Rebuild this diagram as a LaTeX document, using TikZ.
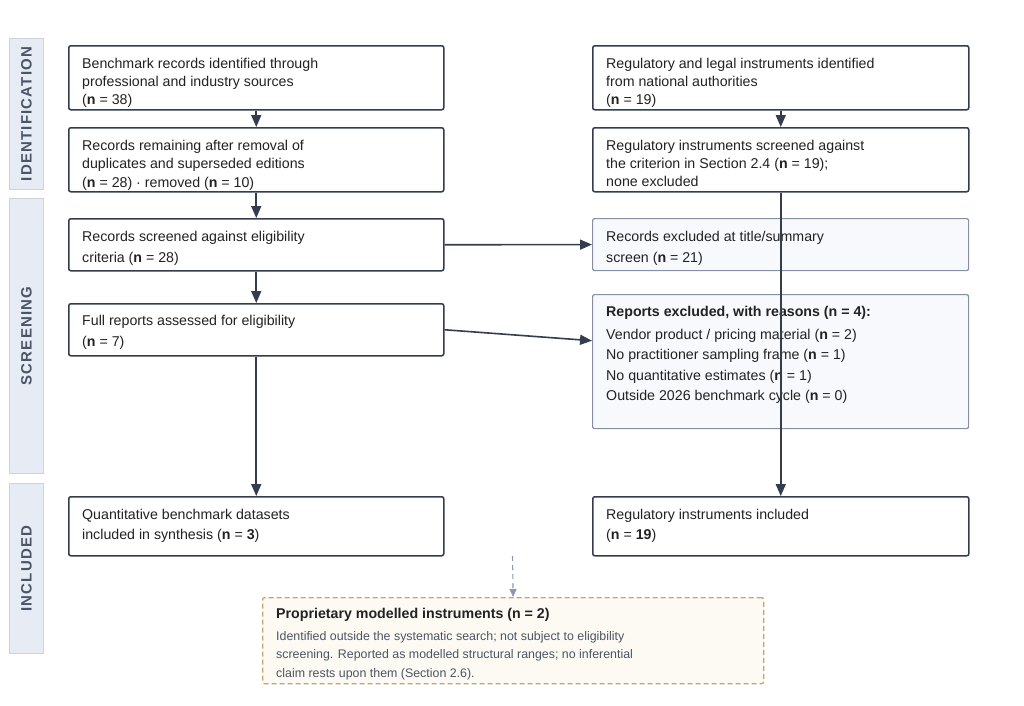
\documentclass[tikz,border=0pt]{standalone}
\usepackage{fontspec}
\setmainfont{Liberation Sans}
\newfontfamily\phfont[LetterSpace=8]{Liberation Sans}
\usetikzlibrary{arrows.meta}
\definecolor{boxline}{HTML}{333D4D}
\definecolor{txtcol}{HTML}{222222}
\definecolor{exline}{HTML}{8790A2}
\definecolor{exfill}{HTML}{F7F9FC}
\definecolor{phfill}{HTML}{E7EBF3}
\definecolor{phline}{HTML}{CDD3DE}
\definecolor{phtext}{HTML}{4A5568}
\definecolor{propfill}{HTML}{FCFAF2}
\definecolor{propline}{HTML}{C4A56A}
\definecolor{proptext}{HTML}{4B5563}
\definecolor{dasharr}{HTML}{8E98AB}
\tikzset{
  mainbox/.style={draw=boxline, line width=1.5pt, rounded corners=2pt, fill=white, inner sep=0pt, anchor=north west},
  exbox/.style={draw=exline, line width=1.2pt, rounded corners=2pt, fill=exfill, inner sep=0pt, anchor=north west},
  phasebox/.style={draw=phline, line width=1pt, fill=phfill, inner sep=0pt, anchor=north west, minimum width=34pt},
  phasetxt/.style={rotate=90, inner sep=0pt, text=phtext, font=\phfont\fontsize{15}{18}\selectfont\bfseries},
  txtthree/.style={anchor=north west, inner sep=0pt, align=left, text=txtcol, font=\fontsize{14.2}{18.3}\selectfont},
  txttwo/.style={anchor=north west, inner sep=0pt, align=left, text=txtcol, font=\fontsize{14.2}{20.6}\selectfont},
  txtlist/.style={anchor=north west, inner sep=0pt, align=left, text=txtcol, font=\fontsize{14.2}{20.4}\selectfont},
  proptitle/.style={anchor=north west, inner sep=0pt, align=left, text=txtcol, font=\fontsize{14.2}{18}\selectfont\bfseries},
  propbody/.style={anchor=north west, inner sep=0pt, align=left, text=proptext, font=\fontsize{12.4}{18.5}\selectfont},
  propbox/.style={draw=propline, line width=1.3pt, dash pattern=on 5pt off 3pt, rounded corners=2pt, fill=propfill, inner sep=0pt, anchor=north west},
  arr/.style={draw=boxline, line width=1.6pt, -{Triangle[length=12pt, width=10pt]}},
  dasharrow/.style={draw=dasharr, line width=1.1pt, dash pattern=on 5pt off 4pt, -{Triangle[length=8pt, width=7pt]}}
}
\begin{document}
\begin{tikzpicture}[x=1pt, y=-1pt]
\useasboundingbox[fill=white] (0,0) rectangle (1024,705);

% phase labels
\node[phasebox, minimum height=151pt] (ph1) at (9,38) {};
\node[phasetxt] (ph1t) at (ph1.center) {IDENTIFICATION};
\node[phasebox, minimum height=275pt] (ph2) at (9,198) {};
\node[phasetxt] (ph2t) at (ph2.center) {SCREENING};
\node[phasebox, minimum height=170pt] (ph3) at (9,483) {};
\node[phasetxt] (ph3t) at (ph3.center) {INCLUDED};

% left column
\node[mainbox, minimum width=375pt, minimum height=64pt] (b1) at (68,45) {};
\node[txtthree] (b1t) at (82,57.7) {Benchmark records identified through\\professional and industry sources\\(\textbf{n} = 38)};
\node[mainbox, minimum width=375pt, minimum height=64pt] (b2) at (68,127) {};
\node[txtthree] (b2t) at (82,140) {Records remaining after removal of\\duplicates and superseded editions\\(\textbf{n} = 28) · removed (\textbf{n} = 10)};
\node[mainbox, minimum width=375pt, minimum height=52pt] (s1) at (68,218) {};
\node[txttwo] (s1t) at (82,231) {Records screened against eligibility\\criteria (\textbf{n} = 28)};
\node[mainbox, minimum width=375pt, minimum height=52pt] (fr) at (68,303) {};
\node[txttwo] (frt) at (82,315) {Full reports assessed for eligibility\\(\textbf{n} = 7)};
\node[mainbox, minimum width=375pt, minimum height=59pt] (il) at (68,496) {};
\node[txttwo] (ilt) at (82,508.7) {Quantitative benchmark datasets\\included in synthesis (\textbf{n} = \textbf{3})};

% right column
\node[mainbox, minimum width=376pt, minimum height=64pt] (r1) at (592,45) {};
\node[txtthree] (r1t) at (606,57.7) {Regulatory and legal instruments identified\\from national authorities\\(\textbf{n} = 19)};
\node[mainbox, minimum width=376pt, minimum height=64pt] (r2) at (592,127) {};
\node[txtthree] (r2t) at (606,139.7) {Regulatory instruments screened against\\the criterion in Section 2.4 (\textbf{n} = 19);\\none excluded};
\node[exbox, minimum width=376pt, minimum height=52pt] (ex1) at (592,218) {};
\node[txttwo] (ex1t) at (606,231) {Records excluded at title/summary\\screen (\textbf{n} = 21)};
\node[exbox, minimum width=376pt, minimum height=134pt] (ex2) at (592,294) {};
\node[proptitle] (ex2h) at (606,306) {Reports excluded, with reasons (n = 4):};
\node[txtlist] (ex2t) at (606,329) {Vendor product / pricing material (\textbf{n} = 2)\\No practitioner sampling frame (\textbf{n} = 1)\\No quantitative estimates (\textbf{n} = 1)\\Outside 2026 benchmark cycle (\textbf{n} = 0)};
\node[mainbox, minimum width=376pt, minimum height=59pt] (ir) at (592,496) {};
\node[txttwo] (irt) at (606,508.7) {Regulatory instruments included\\(\textbf{n} = \textbf{19})};

% proprietary box
\node[propbox, minimum width=501pt, minimum height=86pt] (prop) at (262,597) {};
\node[proptitle] (propt) at (276,608.4) {Proprietary modelled instruments (n = 2)};
\node[propbody] (propb) at (276,630.9) {Identified outside the systematic search; not subject to eligibility\\screening. Reported as modelled structural ranges; no inferential\\claim rests upon them (Section 2.6).};

% connectors
\draw[arr] (b1.south) -- (b2.north);
\draw[arr] (b2.south) -- (s1.north);
\draw[arr] (s1.south) -- (fr.north);
\draw[arr] (fr.south) -- (il.north);
\draw[arr] (s1.east) -- (ex1.west);
\coordinate (ex2in) at (592,340.7);
\draw[arr] (fr.east) -- (ex2in);
\draw[arr] (r1.south) -- (r2.north);
\draw[arr] (r2.south) -- (ir.north);
\coordinate (dstart) at (512.5,556);
\draw[dasharrow] (dstart) -- (prop.north);
\end{tikzpicture}
\end{document}
